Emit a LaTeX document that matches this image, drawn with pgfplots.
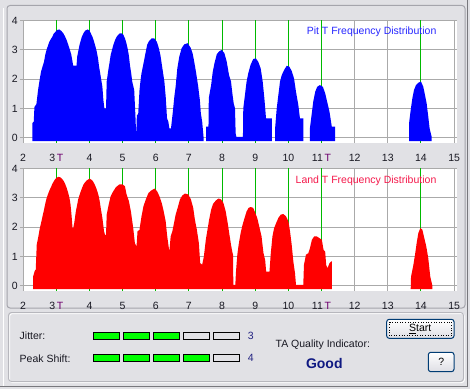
\documentclass[border=0pt]{standalone}
\usepackage{fontspec}
\setmainfont{Liberation Sans}
\usepackage{pgfplots}
\pgfplotsset{compat=1.18}
\definecolor{bg}{RGB}{225,225,229}
\definecolor{gridgrey}{RGB}{170,170,170}
\definecolor{tgreen}{RGB}{0,185,0}
\definecolor{tpurple}{RGB}{110,0,110}
\definecolor{pitblue}{RGB}{40,40,255}
\definecolor{landred}{RGB}{245,25,75}
\definecolor{framegrey}{RGB}{165,165,172}
\definecolor{darkline}{RGB}{120,120,125}
\definecolor{txt}{RGB}{25,25,35}
\definecolor{numblue}{RGB}{35,35,130}
\definecolor{goodblue}{RGB}{15,25,130}
\definecolor{btnborder}{RGB}{0,60,116}
\definecolor{btnbot}{RGB}{222,222,228}
\definecolor{indgreen}{RGB}{0,255,0}
\newcommand\guifont{\fontsize{10.5bp}{12bp}\selectfont}
\pgfplotsset{
  ta/.style={
    scale only axis, width=434.3bp, height=122.6bp, anchor=south west,
    xmin=2, xmax=15.1, ymin=-0.17, ymax=4.02,
    xtick={2,...,15}, ytick={0,...,4},
    xticklabels={2,{3\,\textcolor{tpurple}{T}},4,5,6,7,8,9,10,{11\,\textcolor{tpurple}{T}},12,13,14,15},
    yticklabels={0,1,2,3,4},
    /pgf/number format/assume math mode=true,
    grid=major, major grid style={draw=gridgrey, line width=1bp},
    axis line style={draw=none},
    axis background/.style={fill=white},
    tick pos=left, tick align=outside, major tick length=3.3bp,
    xtick style={draw=none},
    ytick style={draw=gridgrey, line width=1bp},
    xticklabel style={font=\guifont, anchor=center, yshift=-11.5bp, text=txt},
    yticklabel style={font=\guifont, anchor=center, xshift=-5bp, text=txt},
  },
}
\newcommand\greenlines{%
  \pgfplotsinvokeforeach{3,4,5,6,7,8,9,10,11,14}{%
    \addplot[tgreen, line width=1bp, forget plot] coordinates {(##1,-0.17) (##1,4.02)};}}
\begin{document}
\begin{tikzpicture}
\useasboundingbox (0,0) rectangle (470bp,-389bp);
\fill[bg] (0,0) rectangle (470bp,-389bp);
\begin{scope}[x=1bp,y=-1bp]
  \draw[white, line width=1bp] (3.5,8) -- (3.5,386);
  \draw[darkline, line width=1bp] (467.5,0) -- (467.5,386.5) -- (0,386.5);
  \draw[framegrey, line width=1bp, rounded corners=3bp] (7,5.5) rectangle (465,308);
  \draw[white, line width=1bp, rounded corners=3bp] (9.5,313.5) rectangle (464.5,382.5);
  \draw[framegrey!80, line width=1bp, rounded corners=3bp] (8.5,312.5) rectangle (463.5,381.5);
\end{scope}

% ---------------- Pit ----------------
\begin{axis}[ta, at={(23.15bp,-142.7bp)}]
\greenlines
\addplot[fill=blue, draw=none] coordinates {
(2.28,-0.12) (2.28,0.50) (2.32,0.55) (2.34,1.05) (2.40,1.15) (2.45,1.63) (2.50,2.0) (2.54,2.26)
(2.59,2.45) (2.63,2.60) (2.67,2.85) (2.71,3.02) (2.75,3.15) (2.79,3.28) (2.84,3.38) (2.88,3.45)
(2.92,3.55) (2.96,3.60) (3.02,3.68) (3.09,3.70) (3.15,3.65) (3.21,3.57) (3.26,3.47) (3.31,3.34)
(3.36,3.18) (3.41,3.00) (3.45,2.85) (3.48,2.66) (3.51,2.46) (3.61,2.46) (3.63,2.77) (3.67,3.00)
(3.70,3.17) (3.74,3.33) (3.77,3.45) (3.82,3.57) (3.87,3.66) (3.95,3.70) (4.00,3.66) (4.04,3.57)
(4.09,3.45) (4.14,3.28) (4.18,3.12) (4.22,2.94) (4.26,2.70) (4.29,2.43) (4.34,2.09) (4.39,1.74)
(4.42,1.29) (4.45,1.00) (4.50,1.00) (4.52,1.92) (4.57,2.32) (4.61,2.60) (4.64,2.83) (4.68,3.00)
(4.72,3.17) (4.77,3.33) (4.82,3.45) (4.87,3.52) (4.92,3.57) (4.97,3.57) (5.02,3.52) (5.07,3.40)
(5.11,3.25) (5.15,3.06) (5.19,2.80) (5.22,2.49) (5.26,2.20) (5.29,1.92) (5.35,1.63) (5.39,0.66)
(5.41,0.04) (5.43,0.78) (5.47,0.80) (5.51,1.63) (5.54,1.95) (5.57,2.20) (5.63,2.54) (5.68,2.83)
(5.74,3.17) (5.80,3.31) (5.88,3.40) (5.96,3.39) (6.03,3.28) (6.08,3.11) (6.14,2.83) (6.20,2.37)
(6.26,1.92) (6.30,1.40) (6.34,0.66) (6.38,0.55) (6.41,0.32) (6.46,0.32) (6.51,0.83) (6.56,1.40)
(6.60,1.75) (6.65,2.37) (6.71,2.77) (6.78,3.06) (6.86,3.19) (6.96,3.23) (7.05,3.08) (7.11,2.89)
(7.16,2.60) (7.22,2.20) (7.28,1.75) (7.33,1.29) (7.36,0.83) (7.40,0.55) (7.44,0.04) (7.44,-0.12)};
\addplot[fill=blue, draw=none] coordinates {
(7.52,-0.12) (7.52,0.38) (7.59,0.38) (7.60,1.35) (7.63,1.55) (7.67,1.80) (7.72,2.26) (7.77,2.54)
(7.84,2.85) (7.91,2.95) (7.99,3.00) (8.07,2.89) (8.14,2.60) (8.21,2.14) (8.27,1.92) (8.31,1.52)
(8.35,1.18) (8.39,1.00) (8.41,0.15) (8.43,0.03) (8.63,0.03) (8.64,1.00) (8.69,1.46) (8.74,1.92)
(8.79,2.20) (8.86,2.49) (8.94,2.69) (9.02,2.71) (9.09,2.60) (9.165,2.37) (9.225,1.92) (9.276,1.35)
(9.326,0.66) (9.50,0.66) (9.50,-0.12)};
\addplot[fill=blue, draw=none] coordinates {
(9.60,-0.12) (9.60,0.32) (9.648,1.00) (9.698,1.46) (9.748,1.92) (9.80,2.14) (9.87,2.31) (9.95,2.46)
(10.03,2.43) (10.10,2.28) (10.17,2.03) (10.23,1.57) (10.30,1.12) (10.35,0.66) (10.45,0.66) (10.45,-0.12)};
\addplot[fill=blue, draw=none] coordinates {
(10.65,-0.12) (10.65,0.32) (10.70,0.78) (10.75,1.23) (10.81,1.57) (10.87,1.74) (10.95,1.80) (11.04,1.74)
(11.11,1.52) (11.18,1.18) (11.24,0.89) (11.31,0.38) (11.41,0.38) (11.41,-0.12)};
\addplot[fill=blue, draw=none] coordinates {
(13.64,-0.12) (13.64,0.49) (13.69,0.95) (13.74,1.35) (13.79,1.63) (13.85,1.80) (13.92,1.88) (14.00,1.92)
(14.07,1.74) (14.12,1.46) (14.17,1.18) (14.22,0.72) (14.26,0.32) (14.32,0.04) (14.32,-0.12)};
\node[anchor=east, inner sep=0pt, font=\guifont, text=pitblue] at (axis cs:14.47,3.61) {Pit T Frequency Distribution};
\end{axis}

% ---------------- Land ----------------
\begin{axis}[ta, at={(23.15bp,-290.7bp)}]
\greenlines
\addplot[fill=red, draw=none] coordinates {
(2.30,-0.12) (2.30,0.31) (2.35,0.51) (2.38,0.55) (2.41,1.40) (2.46,1.69) (2.50,1.95) (2.54,2.14)
(2.59,2.40) (2.63,2.60) (2.67,2.82) (2.71,3.00) (2.75,3.13) (2.79,3.25) (2.84,3.37) (2.88,3.48)
(2.92,3.56) (2.96,3.63) (3.01,3.69) (3.06,3.72) (3.11,3.71) (3.16,3.67) (3.21,3.60) (3.26,3.50)
(3.31,3.35) (3.36,3.17) (3.40,2.98) (3.43,2.77) (3.46,2.40) (3.49,1.97) (3.51,1.97) (3.54,2.14)
(3.59,2.54) (3.63,2.77) (3.66,2.95) (3.70,3.10) (3.74,3.23) (3.78,3.35) (3.82,3.46) (3.87,3.54)
(3.92,3.60) (4.00,3.66) (4.05,3.63) (4.10,3.58) (4.15,3.48) (4.20,3.35) (4.24,3.22) (4.28,3.06)
(4.31,2.88) (4.34,2.66) (4.39,2.32) (4.44,1.86) (4.47,1.74) (4.50,1.74) (4.52,2.43) (4.55,2.60)
(4.58,2.77) (4.64,3.06) (4.68,3.15) (4.72,3.23) (4.80,3.37) (4.90,3.46) (5.00,3.46) (5.07,3.40)
(5.12,3.12) (5.19,2.89) (5.25,2.54) (5.32,1.97) (5.37,1.46) (5.42,1.34) (5.45,1.86) (5.51,1.91)
(5.54,2.15) (5.57,2.37) (5.63,2.72) (5.70,2.95) (5.78,3.17) (5.86,3.25) (5.96,3.32) (6.04,3.23)
(6.11,3.06) (6.18,2.83) (6.24,2.54) (6.30,2.20) (6.34,1.74) (6.38,1.40) (6.41,1.17) (6.45,1.69)
(6.50,1.86) (6.55,2.14) (6.60,2.43) (6.66,2.66) (6.73,2.95) (6.80,3.08) (6.88,3.15) (6.98,3.12)
(7.06,2.95) (7.13,2.66) (7.18,2.26) (7.24,1.91) (7.30,1.46) (7.34,0.77) (7.40,0.72) (7.45,0.99)
(7.51,1.57) (7.56,1.91) (7.61,2.26) (7.67,2.60) (7.73,2.80) (7.81,2.91) (7.89,2.98) (7.97,2.95)
(8.04,2.83) (8.11,2.54) (8.17,2.14) (8.23,1.69) (8.27,1.40) (8.31,1.15) (8.33,1.06) (8.34,0.03)
(8.40,0.03) (8.42,0.48) (8.46,1.06) (8.50,1.40) (8.56,1.80) (8.62,2.09) (8.68,2.32) (8.74,2.54)
(8.80,2.66) (8.86,2.69) (8.94,2.66) (9.00,2.49) (9.06,2.32) (9.12,2.03) (9.19,1.69) (9.25,1.11)
(9.30,0.88) (9.33,0.48) (9.43,0.48) (9.47,1.11) (9.52,1.69) (9.57,1.97) (9.63,2.14) (9.70,2.32)
(9.77,2.43) (9.85,2.45) (9.93,2.37) (10.00,2.20) (10.05,1.86) (10.10,1.40) (10.15,0.83) (10.20,0.43)
(10.23,0.03) (10.45,0.03) (10.47,0.71) (10.53,1.06) (10.60,1.11) (10.65,1.28) (10.71,1.57) (10.78,1.69)
(10.85,1.69) (10.93,1.63) (11.01,1.57) (11.06,1.23) (11.11,1.17) (11.14,0.71) (11.18,0.60) (11.24,0.77)
(11.29,0.83) (11.31,0.83) (11.31,-0.12)};
\addplot[fill=red, draw=none] coordinates {
(13.69,-0.12) (13.70,0.31) (13.77,0.71) (13.82,1.06) (13.87,1.46) (13.92,1.80) (13.98,1.97) (14.04,1.92)
(14.10,1.63) (14.16,1.34) (14.22,0.94) (14.28,0.31) (14.34,0.02) (14.34,-0.12)};
\node[anchor=east, inner sep=0pt, font=\guifont, text=landred] at (axis cs:14.47,3.57) {Land T Frequency Distribution};
\end{axis}

% ---------------- bottom panel ----------------
\begin{scope}[x=1bp,y=-1bp]
  \node[anchor=west, inner sep=0pt, font=\guifont, text=txt] at (19.5,335.7) {Jitter:};
  \node[anchor=west, inner sep=0pt, font=\guifont, text=txt] at (19.5,358.3) {Peak Shift:};
  \foreach \i/\c in {0/indgreen,1/indgreen,2/indgreen,3/bg,4/bg}
    \draw[black, line width=1bp, fill=\c] ({93.8+30*\i},332.2) rectangle ({119.8+30*\i},339.2);
  \foreach \i/\c in {0/indgreen,1/indgreen,2/indgreen,3/indgreen,4/bg}
    \draw[black, line width=1bp, fill=\c] ({93.8+30*\i},354.8) rectangle ({119.8+30*\i},361.8);
  \node[inner sep=0pt, font=\guifont, text=numblue] at (250.7,335.7) {3};
  \node[inner sep=0pt, font=\guifont, text=numblue] at (250.7,358.3) {4};
  \node[inner sep=0pt, font=\guifont, text=txt] at (322.8,344.3) {TA Quality Indicator:};
  \node[inner sep=0pt, font=\fontsize{14bp}{16bp}\selectfont\bfseries, text=goodblue] at (324.3,363.3) {Good};
  \shade[top color=white, bottom color=btnbot, draw=btnborder, line width=1bp, rounded corners=2.5bp] (386.7,319.3) rectangle (454,338.3);
  \draw[black, dotted, line width=0.6bp] (389.5,321.9) rectangle (451.2,335.7);
  \node[inner sep=0pt, font=\guifont, text=black] at (420.3,329) {\underline{S}tart};
  \shade[top color=white, bottom color=btnbot, draw=btnborder, line width=1bp, rounded corners=2.5bp] (428.3,352.3) rectangle (454,371.7);
  \node[inner sep=0pt, font=\guifont, text=black] at (441.2,362) {?};
\end{scope}
\end{tikzpicture}
\end{document}
